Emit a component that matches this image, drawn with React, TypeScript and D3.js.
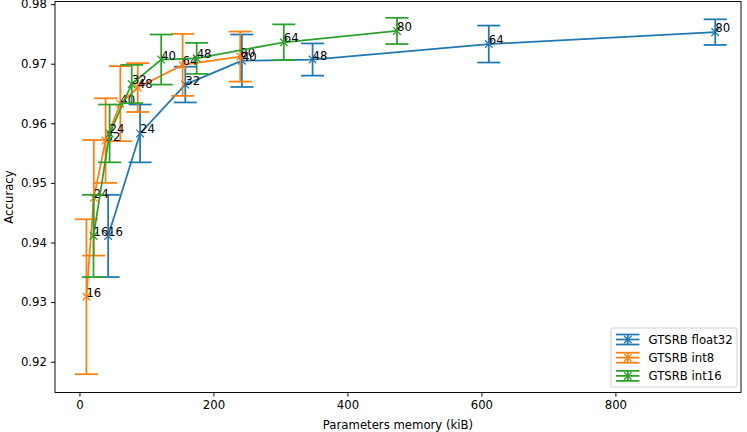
import * as d3 from 'd3';
import React, { useEffect, useRef } from 'react';

// network widths annotated next to each point
const widths = [16, 24, 32, 40, 48, 64, 80];

// GTSRB float32
const f32Mem = [42.8, 90.5, 158, 242.5, 348, 611, 949];
const f32Acc = [0.9411, 0.9583, 0.9665, 0.9705, 0.9707, 0.9733, 0.9753];
const f32Err = [0.0069, 0.00485, 0.003, 0.0044, 0.0027, 0.0031, 0.00215];

// GTSRB int8
const i8Mem = [10.4, 21.4, 39, 61, 87, 154, 240];
const i8Acc = [0.9309, 0.9475, 0.9571, 0.9633, 0.966, 0.9698, 0.9712];
const i8Err = [0.013, 0.0097, 0.0071, 0.0063, 0.0041, 0.0052, 0.0042];

// GTSRB int16
const i16Mem = [21, 45, 78, 122, 175, 305, 474];
const i16Acc = [0.9411, 0.9583, 0.9666, 0.9707, 0.9709, 0.9736, 0.9755];
const i16Err = [0.0069, 0.00485, 0.0032, 0.0042, 0.0026, 0.003, 0.0022];

const seriesNames = ['GTSRB float32', 'GTSRB int8', 'GTSRB int16'];
const seriesColors = ['#1f77b4', '#ff7f0e', '#2ca02c'];

const xTicks = [0, 200, 400, 600, 800];
const yTicks = [0.92, 0.93, 0.94, 0.95, 0.96, 0.97, 0.98];

type Pt = { mem: number; acc: number; err: number; label: number };

const build = (mem: number[], acc: number[], err: number[]): Pt[] =>
  mem.map((m, i) => ({ mem: m, acc: acc[i], err: err[i], label: widths[i] }));

const App: React.FC = () => {
  const ref = useRef<SVGSVGElement>(null);

  useEffect(() => {
    const width = 747;
    const height = 432;
    const margin = { top: 1.5, right: 6, bottom: 39.5, left: 55 };
    const font = '"DejaVu Sans", sans-serif';
    const fs = 11.7;

    const svg = d3.select(ref.current);
    svg.selectAll('*').remove();

    const x = d3.scaleLinear()
      .domain([-36.5, 987.5])
      .range([margin.left, width - margin.right]);

    const y = d3.scaleLinear()
      .domain([0.91483, 0.98044])
      .range([height - margin.bottom, margin.top]);

    const series = [
      build(f32Mem, f32Acc, f32Err),
      build(i8Mem, i8Acc, i8Err),
      build(i16Mem, i16Acc, i16Err),
    ];

    const lw = 1.75;
    const cap = 11.5;
    const mk = 3.8;

    const line = d3.line<Pt>()
      .x(d => x(d.mem))
      .y(d => y(d.acc));

    series.forEach((pts, si) => {
      const color = seriesColors[si];
      const g = svg.append('g');

      g.append('path')
        .datum(pts)
        .attr('fill', 'none')
        .attr('stroke', color)
        .attr('stroke-width', lw)
        .attr('d', line);

      // error bars
      g.selectAll('.bar')
        .data(pts)
        .join('line')
        .attr('x1', d => x(d.mem))
        .attr('x2', d => x(d.mem))
        .attr('y1', d => y(d.acc - d.err))
        .attr('y2', d => y(d.acc + d.err))
        .attr('stroke', color)
        .attr('stroke-width', lw);

      [-1, 1].forEach(s => {
        g.selectAll(`.cap${s}`)
          .data(pts)
          .join('line')
          .attr('x1', d => x(d.mem) - cap)
          .attr('x2', d => x(d.mem) + cap)
          .attr('y1', d => y(d.acc + s * d.err))
          .attr('y2', d => y(d.acc + s * d.err))
          .attr('stroke', color)
          .attr('stroke-width', lw);
      });

      // x markers
      g.selectAll('.mark')
        .data(pts)
        .join('path')
        .attr('d', d => {
          const cx = x(d.mem);
          const cy = y(d.acc);
          return `M${cx - mk},${cy - mk}L${cx + mk},${cy + mk}M${cx - mk},${cy + mk}L${cx + mk},${cy - mk}`;
        })
        .attr('stroke', color)
        .attr('stroke-width', 1.3);

      g.selectAll('.lbl')
        .data(pts)
        .join('text')
        .attr('x', d => x(d.mem))
        .attr('y', d => y(d.acc))
        .attr('font-family', font)
        .attr('font-size', fs)
        .attr('fill', '#000')
        .text(d => String(d.label));
    });

    // axes
    const xAxis = svg.append('g')
      .attr('transform', `translate(0,${height - margin.bottom})`)
      .call(d3.axisBottom(x).tickValues(xTicks).tickSize(4.1).tickPadding(4).tickFormat(d3.format('d')));
    const yAxis = svg.append('g')
      .attr('transform', `translate(${margin.left},0)`)
      .call(d3.axisLeft(y).tickValues(yTicks).tickSize(4.1).tickPadding(4).tickFormat(d3.format('.2f')));

    [xAxis, yAxis].forEach(a => {
      a.select('.domain').remove();
      a.attr('font-family', font).attr('font-size', fs);
      a.selectAll('text').attr('fill', '#000');
      a.selectAll('line').attr('stroke', '#000').attr('stroke-width', 0.95);
    });

    // spines
    svg.append('rect')
      .attr('x', margin.left)
      .attr('y', margin.top)
      .attr('width', width - margin.left - margin.right)
      .attr('height', height - margin.top - margin.bottom)
      .attr('fill', 'none')
      .attr('stroke', '#000')
      .attr('stroke-width', 0.95);

    svg.append('text')
      .attr('x', (margin.left + width - margin.right) / 2)
      .attr('y', 429)
      .attr('text-anchor', 'middle')
      .attr('font-family', font)
      .attr('font-size', fs)
      .text('Parameters memory (kiB)');

    svg.append('text')
      .attr('transform', `translate(9,${(margin.top + height - margin.bottom) / 2}) rotate(-90)`)
      .attr('text-anchor', 'middle')
      .attr('dominant-baseline', 'central')
      .attr('font-family', font)
      .attr('font-size', fs)
      .text('Accuracy');

    // legend
    const lg = svg.append('g');
    lg.append('rect')
      .attr('x', 611)
      .attr('y', 328)
      .attr('width', 126)
      .attr('height', 59)
      .attr('rx', 2)
      .attr('fill', 'white')
      .attr('fill-opacity', 0.8)
      .attr('stroke', '#cccccc')
      .attr('stroke-width', 0.95);

    seriesNames.forEach((name, i) => {
      const cy = 339.5 + i * 18.2;
      const c = seriesColors[i];
      const hx0 = 616;
      const hx1 = 639.5;
      const hm = (hx0 + hx1) / 2;
      [-5, 0, 5].forEach(dy => {
        lg.append('line')
          .attr('x1', hx0).attr('x2', hx1)
          .attr('y1', cy + dy).attr('y2', cy + dy)
          .attr('stroke', c).attr('stroke-width', lw);
      });
      lg.append('line')
        .attr('x1', hm).attr('x2', hm)
        .attr('y1', cy - 5).attr('y2', cy + 5)
        .attr('stroke', c).attr('stroke-width', lw);
      lg.append('path')
        .attr('d', `M${hm - mk},${cy - mk}L${hm + mk},${cy + mk}M${hm - mk},${cy + mk}L${hm + mk},${cy - mk}`)
        .attr('stroke', c).attr('stroke-width', 1.3);
      lg.append('text')
        .attr('x', 648.5)
        .attr('y', cy)
        .attr('dominant-baseline', 'central')
        .attr('font-family', font)
        .attr('font-size', fs)
        .text(name);
    });
  }, []);

  return (
    <div style={{ position: 'absolute', left: 0, top: 0 }}>
      <svg ref={ref} width={747} height={432} style={{ display: 'block', background: '#fff' }}></svg>
    </div>
  );
};

export default App;
